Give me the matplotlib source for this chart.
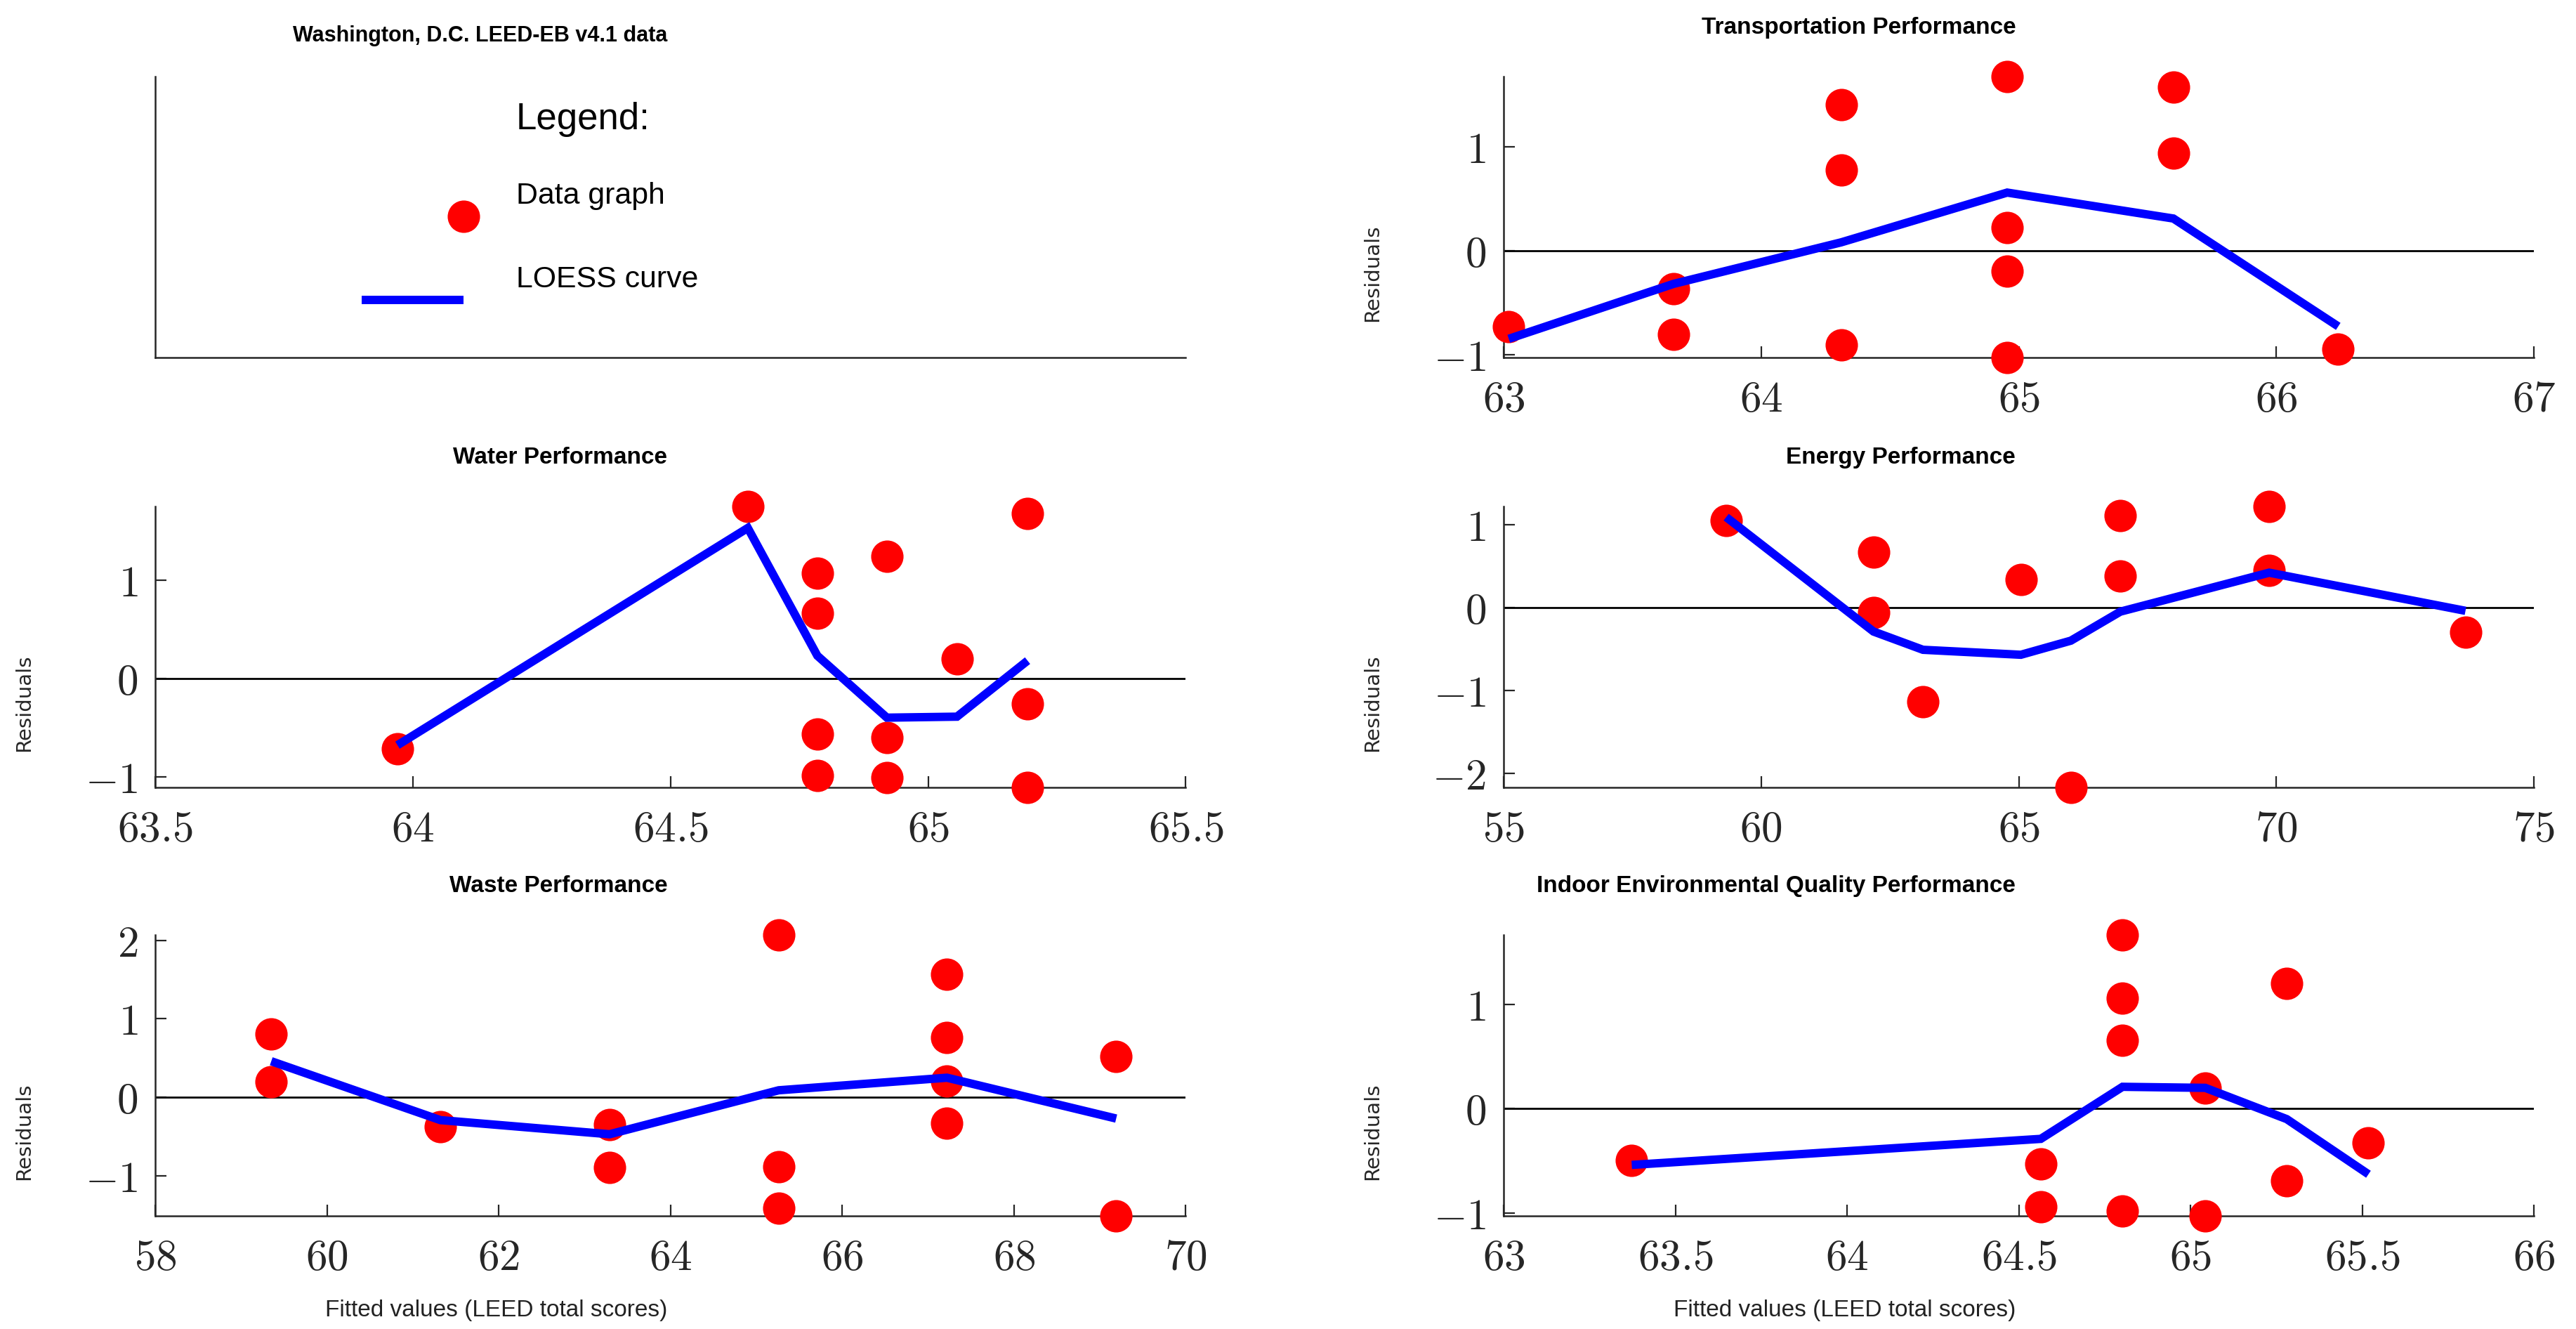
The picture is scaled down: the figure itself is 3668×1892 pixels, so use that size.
import matplotlib
matplotlib.use("Agg")
import matplotlib.pyplot as plt
import numpy as np
from matplotlib.ticker import MultipleLocator, FuncFormatter

plt.rcParams["mathtext.fontset"] = "cm"

# ---- data -----------------------------------------------------------------
transport_x = [63.02, 63.66, 63.66, 64.31, 64.31, 64.31, 64.955, 64.955, 64.955, 64.955, 65.6, 65.6, 66.24]
transport_y = [-0.73, -0.37, -0.81, 1.41, 0.78, -0.91, 1.68, 0.22, -0.20, -1.03, 1.58, 0.94, -0.95]
transport_loess_x = [63.02, 63.66, 64.31, 64.955, 65.6, 66.24]
transport_loess_y = [-0.85, -0.32, 0.08, 0.56, 0.31, -0.73]

water_x = [63.97, 64.65, 64.785, 64.785, 64.785, 64.785, 64.92, 64.92, 64.92, 65.056, 65.193, 65.193, 65.193]
water_y = [-0.72, 1.75, 1.07, 0.66, -0.57, -0.99, 1.24, -0.60, -1.01, 0.20, 1.68, -0.26, -1.11]
water_loess_x = [63.97, 64.65, 64.785, 64.92, 65.056, 65.193]
water_loess_y = [-0.68, 1.53, 0.23, -0.40, -0.39, 0.18]

energy_x = [59.32, 62.18, 62.18, 63.14, 65.04, 66.01, 66.97, 66.97, 69.86, 69.86, 73.67]
energy_y = [1.05, 0.67, -0.06, -1.14, 0.34, -2.17, 1.11, 0.38, 1.22, 0.45, -0.30]
energy_loess_x = [59.32, 62.18, 63.14, 65.04, 66.01, 66.97, 69.86, 73.67]
energy_loess_y = [1.09, -0.29, -0.51, -0.57, -0.40, -0.05, 0.42, -0.04]

waste_x = [59.35, 59.35, 61.32, 63.29, 63.29, 65.26, 65.26, 65.26, 67.22, 67.22, 67.22, 67.22, 69.19, 69.19]
waste_y = [0.81, 0.20, -0.37, -0.35, -0.89, 2.07, -0.88, -1.41, 1.57, 0.76, 0.21, -0.33, 0.52, -1.51]
waste_loess_x = [59.35, 61.32, 63.29, 65.26, 67.22, 69.19]
waste_loess_y = [0.46, -0.29, -0.47, 0.09, 0.25, -0.27]

indoor_x = [63.373, 64.564, 64.564, 64.802, 64.802, 64.802, 64.802, 65.043, 65.043, 65.28, 65.28, 65.518]
indoor_y = [-0.50, -0.53, -0.94, 1.67, 1.06, 0.66, -0.98, 0.20, -1.03, 1.20, -0.69, -0.33]
indoor_loess_x = [63.373, 64.564, 64.802, 65.043, 65.28, 65.518]
indoor_loess_y = [-0.54, -0.29, 0.21, 0.20, -0.10, -0.63]

panel_titles = [
    "Transportation Performance",
    "Water Performance",
    "Energy Performance",
    "Waste Performance",
    "Indoor Environmental Quality Performance",
]
main_title = "Washington, D.C. LEED-EB v4.1 data"
x_label = "Fitted values (LEED total scores)"
y_label = "Residuals"

# ---- style ----------------------------------------------------------------
DARK = "#262626"
SANS = "Liberation Sans"
COL_X = [0.0603, 0.5837]
ROW_Y = [0.731, 0.4075, 0.0851]
AX_W, AX_H = 0.400, 0.2115

fig = plt.figure(figsize=(18.34, 9.46), dpi=200)


def style_spines(ax):
    for side in ("top", "right"):
        ax.spines[side].set_visible(False)
    for side in ("left", "bottom"):
        ax.spines[side].set_color(DARK)
        ax.spines[side].set_linewidth(0.9)


def add_title(ax, text, offset=22, size=12):
    ax.annotate(text, xy=(0.497, 1), xycoords="axes fraction",
                xytext=(0, offset), textcoords="offset points",
                ha="right", va="baseline", fontsize=size,
                fontweight="bold", family=SANS, color="black")


def residual_panel(ax, x, y, lx, ly, title, xlim, xstep, show_xlabel=False):
    style_spines(ax)
    ax.axhline(0, color="black", lw=1.0, zorder=2)
    ax.plot(x, y, "o", color="#ff0000", ms=16.6, mew=0, clip_on=False, zorder=3)
    ax.plot(lx, ly, color="#0000ff", lw=4.3, clip_on=False, zorder=4,
            solid_capstyle="butt", solid_joinstyle="miter")
    ax.set_xlim(*xlim)
    ax.set_ylim(min(y), max(y))
    ax.xaxis.set_major_locator(MultipleLocator(xstep))
    ax.yaxis.set_major_locator(MultipleLocator(1))
    fmt = FuncFormatter(lambda v, p: f"${v:g}$")
    ax.xaxis.set_major_formatter(fmt)
    ax.yaxis.set_major_formatter(fmt)
    ax.tick_params(axis="x", direction="in", length=5.8, width=0.8,
                   color=DARK, labelcolor=DARK, labelsize=22, pad=11)
    ax.tick_params(axis="y", direction="in", length=5.8, width=0.8,
                   color=DARK, labelcolor=DARK, labelsize=22, pad=9)
    ax.set_ylabel(y_label, fontsize=10.5, family="DejaVu Sans", color=DARK)
    ax.yaxis.set_label_coords(-0.118, 0.30)
    add_title(ax, title)
    if show_xlabel:
        ax.annotate(x_label, xy=(0.497, 0), xycoords="axes fraction",
                    xytext=(0, -51.5), textcoords="offset points",
                    ha="right", va="baseline", fontsize=12, family=SANS,
                    color="#222222")


# legend panel (top-left)
ax0 = fig.add_axes([COL_X[0], ROW_Y[0], AX_W, AX_H])
style_spines(ax0)
ax0.set_xlim(0, 1)
ax0.set_ylim(0, 1)
ax0.set_xticks([])
ax0.set_yticks([])
add_title(ax0, main_title, offset=18, size=11)
ax0.text(0.350, 0.813, "Legend:", fontsize=19, family=SANS, va="baseline", ha="left")
ax0.text(0.350, 0.546, "Data graph", fontsize=15.4, family=SANS, va="baseline", ha="left")
ax0.text(0.350, 0.249, "LOESS curve", fontsize=15.4, family=SANS, va="baseline", ha="left")
ax0.plot([0.299], [0.501], "o", color="#ff0000", ms=16.6, mew=0, clip_on=False)
ax0.plot([0.200, 0.299], [0.204, 0.204], color="#0000ff", lw=4.3,
         solid_capstyle="butt")

panels = [
    (COL_X[1], ROW_Y[0], transport_x, transport_y, transport_loess_x, transport_loess_y,
     panel_titles[0], (63, 67), 1, False),
    (COL_X[0], ROW_Y[1], water_x, water_y, water_loess_x, water_loess_y,
     panel_titles[1], (63.5, 65.5), 0.5, False),
    (COL_X[1], ROW_Y[1], energy_x, energy_y, energy_loess_x, energy_loess_y,
     panel_titles[2], (55, 75), 5, False),
    (COL_X[0], ROW_Y[2], waste_x, waste_y, waste_loess_x, waste_loess_y,
     panel_titles[3], (58, 70), 2, True),
    (COL_X[1], ROW_Y[2], indoor_x, indoor_y, indoor_loess_x, indoor_loess_y,
     panel_titles[4], (63, 66), 0.5, True),
]

for left, bottom, x, y, lx, ly, title, xlim, xstep, xl in panels:
    ax = fig.add_axes([left, bottom, AX_W, AX_H])
    residual_panel(ax, x, y, lx, ly, title, xlim, xstep, show_xlabel=xl)

fig.savefig("out.png", dpi=200, facecolor="white")
